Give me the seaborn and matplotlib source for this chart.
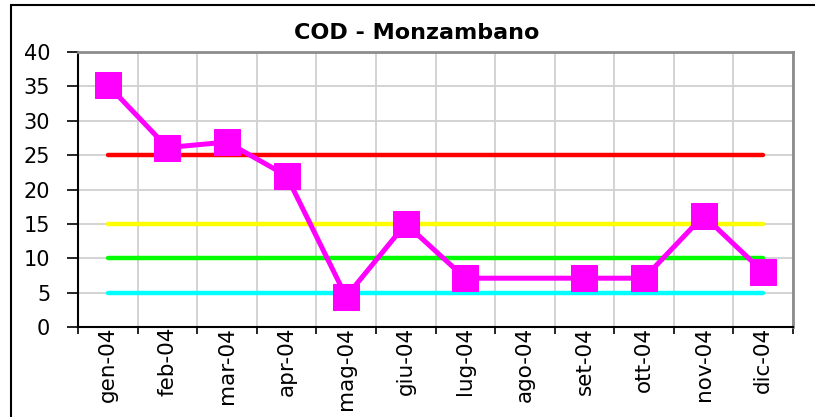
import matplotlib
matplotlib.use("Agg")
import matplotlib.pyplot as plt
import seaborn as sns
import numpy as np
import pandas as pd
from matplotlib.patches import Rectangle

months = ["gen-04", "feb-04", "mar-04", "apr-04", "mag-04", "giu-04",
          "lug-04", "ago-04", "set-04", "ott-04", "nov-04", "dic-04"]
cod = [35.2, 26.1, 26.9, 22.0, 4.4, 15.0, 7.1, np.nan, 7.1, 7.1, 16.2, 8.0]
thresholds = [25, 15, 10, 5]
threshold_colors = ["#ff0000", "#ffff00", "#00ff00", "#00ffff"]
title = "COD - Monzambano"

sns.set_theme(style="white")
plt.rcParams["font.family"] = ["DejaVu Sans"]

fig = plt.figure(figsize=(8.15, 4.17), dpi=100)
W, H = 815, 417
ax = fig.add_axes([78 / W, 1 - 327 / H, (793 - 78) / W, (327 - 52) / H])

x = np.arange(len(months))
df = pd.DataFrame({"x": x, "month": months, "cod": cod})

for t, c in zip(thresholds, threshold_colors):
    tdf = pd.DataFrame({"x": x, "v": [t] * len(x)})
    sns.lineplot(data=tdf, x="x", y="v", color=c, lw=3.2, ax=ax,
                 solid_capstyle="round", zorder=3)

dd = df.dropna()
sns.lineplot(data=dd, x="x", y="cod", color="#ff00ff", lw=3.6, ax=ax,
             marker="s", markersize=19, markeredgecolor="#ff00ff",
             zorder=4)

ax.set_xlim(-0.5, len(months) - 0.5)
ax.set_ylim(0, 40)
ax.set_yticks(np.arange(0, 41, 5))
ax.set_xticks(x)
ax.set_xticklabels(months, rotation=90, fontsize=15.5)
ax.set_xticks(np.arange(-0.5, len(months), 1), minor=True)
ax.tick_params(axis="x", which="major", length=0, pad=0, labelcolor="#000000")
ax.tick_params(axis="x", which="minor", length=5, width=1.2, color="#000000", direction="out", bottom=True)
ax.tick_params(axis="y", which="major", length=8, width=1.2, color="#000000", direction="out", left=True, labelsize=15, pad=12, labelcolor="#000000")
ax.grid(True, axis="y", which="major", color="#d0d0d0", lw=1.3)
ax.grid(True, axis="x", which="minor", color="#d0d0d0", lw=1.3)
ax.set_xlabel("")
ax.set_ylabel("")
for s in ["left", "bottom"]:
    ax.spines[s].set_color("#000000")
    ax.spines[s].set_linewidth(1.5)
for s in ["top", "right"]:
    ax.spines[s].set_color("#8c8c8c")
    ax.spines[s].set_linewidth(2)
ax.set_facecolor("white")

fig.text((273 + 560) / 2 / W, 1 - 33 / H, title, ha="center", va="center",
         fontsize=16, fontweight="bold", color="#000000")

fig.patches.append(Rectangle((11 / W, -0.05), 1.2, 1 - 5 / H + 0.05,
                             transform=fig.transFigure, fill=False,
                             edgecolor="#000000", lw=1.5))

fig.savefig("out.png", dpi=100)
